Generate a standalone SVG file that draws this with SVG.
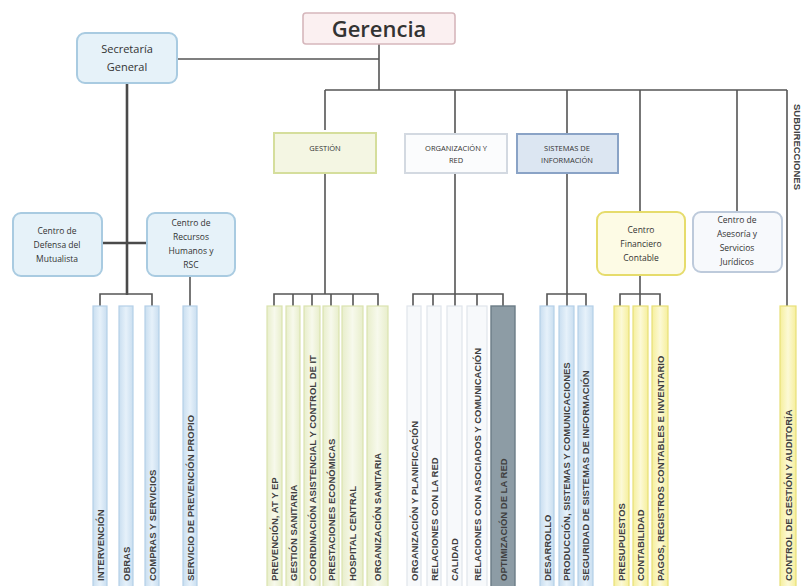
<svg xmlns="http://www.w3.org/2000/svg" width="805" height="586" viewBox="0 0 805 586">
<style>
.bx{font-family:"Open Sans","Liberation Sans",sans-serif;fill:#333;text-anchor:middle}
.ln{stroke:#555;stroke-width:1.6;fill:none}
.lnt{stroke:#4a4a4a;stroke-width:2.6;fill:none}
.bt{font-family:"Liberation Sans",sans-serif;font-size:9.5px;fill:#404040;font-weight:bold}
.bb{fill:url(#gb);stroke:#b5d0e8;stroke-width:1.2}
.bg{fill:url(#gg);stroke:#dbe3b0;stroke-width:1.2}
.bw{fill:#f7f9fb;stroke:#e0e5ec;stroke-width:1.2}
.bd{fill:#8d9ca5;stroke:#6c7d87;stroke-width:1.4}
.by{fill:url(#gy);stroke:#e8df78;stroke-width:1.2}
.nb{fill:#e6f2f9;stroke:#a9cbe1;stroke-width:2}
</style>
<defs>
<linearGradient id="gb" x1="0" x2="1" y1="0" y2="0"><stop offset="0" stop-color="#c9def0"/><stop offset="0.5" stop-color="#e6f1fa"/><stop offset="1" stop-color="#c9def0"/></linearGradient>
<linearGradient id="gg" x1="0" x2="1" y1="0" y2="0"><stop offset="0" stop-color="#e8eecb"/><stop offset="0.5" stop-color="#f7f9ec"/><stop offset="1" stop-color="#e8eecb"/></linearGradient>
<linearGradient id="gy" x1="0" x2="1" y1="0" y2="0"><stop offset="0" stop-color="#f6ef9c"/><stop offset="0.5" stop-color="#fcf9d6"/><stop offset="1" stop-color="#f6ef9c"/></linearGradient>
</defs>
<rect width="805" height="586" fill="#ffffff"/>

<g id="connectors">
<path class="ln" d="M379 43V90M177 59H379M325 90H787M325 90V130M455 90V135M567 90V135M640 90V212M737 90V212M787 90V306"/>
<path class="lnt" d="M127 83V295M102 243H147"/>
<path class="ln" d="M100 306V294H152V306M190 277V306"/>
<path class="ln" d="M325 173V294M274 306V294H378V306M293 294V306M312 294V306M331 294V306M353 294V306"/>
<path class="ln" d="M455 173V294M413 306V294H503V306M433 294V306M455 294V306M477 294V306"/>
<path class="ln" d="M567 173V294M547 306V294H586V306M567 294V306"/>
<path class="ln" d="M640 275V294M620 306V294H660V306M640 294V306"/>
</g>

<g id="gerencia"><rect x="303" y="13" width="152" height="31" rx="3" fill="#fbf0f1" stroke="#d6b7bc" stroke-width="1.6"/><text class="bx" x="379" y="37" font-size="22" font-weight="600">Gerencia</text></g>
<g id="secretaria"><rect class="nb" x="77" y="33" width="100" height="50" rx="8"/><text class="bx" x="127" y="53" font-size="11">Secretaría</text><text class="bx" x="127" y="71" font-size="11">General</text></g>
<g id="defensa"><rect class="nb" x="13" y="213" width="89" height="63" rx="8"/><text class="bx" x="57" y="234" font-size="8.5">Centro de</text><text class="bx" x="57" y="248" font-size="8.5">Defensa del</text><text class="bx" x="57" y="262" font-size="8.5">Mutualista</text></g>
<g id="recursos"><rect class="nb" x="147" y="213" width="88" height="63" rx="8"/><text class="bx" x="191" y="226" font-size="8.5">Centro de</text><text class="bx" x="191" y="240" font-size="8.5">Recursos</text><text class="bx" x="191" y="254" font-size="8.5">Humanos y</text><text class="bx" x="191" y="268" font-size="8.5">RSC</text></g>
<g id="gestion"><rect x="274" y="133" width="102" height="40" fill="#f4f6e3" stroke="#d5de9c" stroke-width="2"/><text class="bx" x="325" y="151" font-size="7.5">GESTIÓN</text></g>
<g id="organizacion"><rect x="405" y="134" width="102" height="39" fill="#fbfcfd" stroke="#d3d9e1" stroke-width="2"/><text class="bx" x="456" y="151" font-size="7.5">ORGANIZACIÓN Y</text><text class="bx" x="456" y="163" font-size="7.5">RED</text></g>
<g id="sistemas"><rect x="517" y="134" width="101" height="39" fill="#dce6f2" stroke="#8aa3c6" stroke-width="2"/><text class="bx" x="567" y="151" font-size="7.5">SISTEMAS DE</text><text class="bx" x="567" y="163" font-size="7.5">INFORMACIÓN</text></g>
<g id="financiero"><rect x="597" y="212" width="88" height="63" rx="8" fill="#fdfbe5" stroke="#e6dc6c" stroke-width="2"/><text class="bx" x="641" y="233" font-size="8.5">Centro</text><text class="bx" x="641" y="247" font-size="8.5">Financiero</text><text class="bx" x="641" y="261" font-size="8.5">Contable</text></g>
<g id="asesoria"><rect x="693" y="212" width="89" height="60" rx="8" fill="#f7f9fc" stroke="#bdcadb" stroke-width="2"/><text class="bx" x="737" y="223" font-size="8.5">Centro de</text><text class="bx" x="737" y="237" font-size="8.5">Asesoría y</text><text class="bx" x="737" y="251" font-size="8.5">Servicios</text><text class="bx" x="737" y="265" font-size="8.5">Jurídicos</text></g>
<g id="subdirecciones"><text class="bt" font-size="7" transform="translate(794,104) rotate(90)">SUBDIRECCIONES</text></g>

<g id="bars-secretaria">
<rect class="bb" x="93" y="306" width="14" height="284"/><text class="bt" transform="translate(103.5,581) rotate(-90)">INTERVENCIÓN</text>
<rect class="bb" x="119" y="306" width="14" height="284"/><text class="bt" transform="translate(129.5,581) rotate(-90)">OBRAS</text>
<rect class="bb" x="145" y="306" width="14" height="284"/><text class="bt" transform="translate(155.5,581) rotate(-90)">COMPRAS Y SERVICIOS</text>
<rect class="bb" x="183" y="306" width="14" height="284"/><text class="bt" transform="translate(193.5,581) rotate(-90)">SERVICIO DE PREVENCIÓN PROPIO</text>
</g>
<g id="bars-gestion">
<rect class="bg" x="267" y="306" width="15" height="284"/><text class="bt" transform="translate(278,581) rotate(-90)">PREVENCIÓN, AT Y EP</text>
<rect class="bg" x="286" y="306" width="14" height="284"/><text class="bt" transform="translate(296.5,581) rotate(-90)">GESTIÓN SANITARIA</text>
<rect class="bg" x="304" y="306" width="16" height="284"/><text class="bt" transform="translate(315.5,581) rotate(-90)">COORDINACIÓN ASISTENCIAL Y CONTROL DE IT</text>
<rect class="bg" x="323" y="306" width="16" height="284"/><text class="bt" transform="translate(334.5,581) rotate(-90)">PRESTACIONES ECONÓMICAS</text>
<rect class="bg" x="342" y="306" width="21" height="284"/><text class="bt" transform="translate(356,581) rotate(-90)">HOSPITAL CENTRAL</text>
<rect class="bg" x="367" y="306" width="21" height="284"/><text class="bt" transform="translate(381,581) rotate(-90)">ORGANIZACIÓN SANITARIA</text>
</g>
<g id="bars-organizacion">
<rect class="bw" x="407" y="306" width="14" height="284"/><text class="bt" transform="translate(417.5,581) rotate(-90)">ORGANIZACIÓN Y PLANIFICACIÓN</text>
<rect class="bw" x="427" y="306" width="14" height="284"/><text class="bt" transform="translate(437.5,581) rotate(-90)">RELACIONES CON LA RED</text>
<rect class="bw" x="447" y="306" width="15" height="284"/><text class="bt" transform="translate(458,581) rotate(-90)">CALIDAD</text>
<rect class="bw" x="467" y="306" width="20" height="284"/><text class="bt" transform="translate(480.5,581) rotate(-90)">RELACIONES CON ASOCIADOS Y COMUNICACIÓN</text>
<rect class="bd" x="491" y="306" width="24" height="284"/><text class="bt" transform="translate(506.5,581) rotate(-90)">OPTIMIZACIÓN DE LA RED</text>
</g>
<g id="bars-sistemas">
<rect class="bb" x="540" y="306" width="14" height="284"/><text class="bt" transform="translate(550.5,581) rotate(-90)">DESARROLLO</text>
<rect class="bb" x="559" y="306" width="15" height="284"/><text class="bt" transform="translate(570,581) rotate(-90)">PRODUCCIÓN, SISTEMAS Y COMUNICACIONES</text>
<rect class="bb" x="578" y="306" width="15" height="284"/><text class="bt" transform="translate(589,581) rotate(-90)">SEGURIDAD DE SISTEMAS DE INFORMACIÓN</text>
</g>
<g id="bars-financiero">
<rect class="by" x="614" y="306" width="15" height="284"/><text class="bt" transform="translate(625,581) rotate(-90)">PRESUPUESTOS</text>
<rect class="by" x="633" y="306" width="15" height="284"/><text class="bt" transform="translate(644,581) rotate(-90)">CONTABILIDAD</text>
<rect class="by" x="652" y="306" width="16" height="284"/><text class="bt" transform="translate(663.5,581) rotate(-90)">PAGOS, REGISTROS CONTABLES E INVENTARIO</text>
</g>
<g id="bar-control">
<rect class="by" x="780" y="306" width="16" height="284"/><text class="bt" transform="translate(791.5,581) rotate(-90)">CONTROL DE GESTIÓN Y AUDITORÍA</text>
</g>
</svg>
